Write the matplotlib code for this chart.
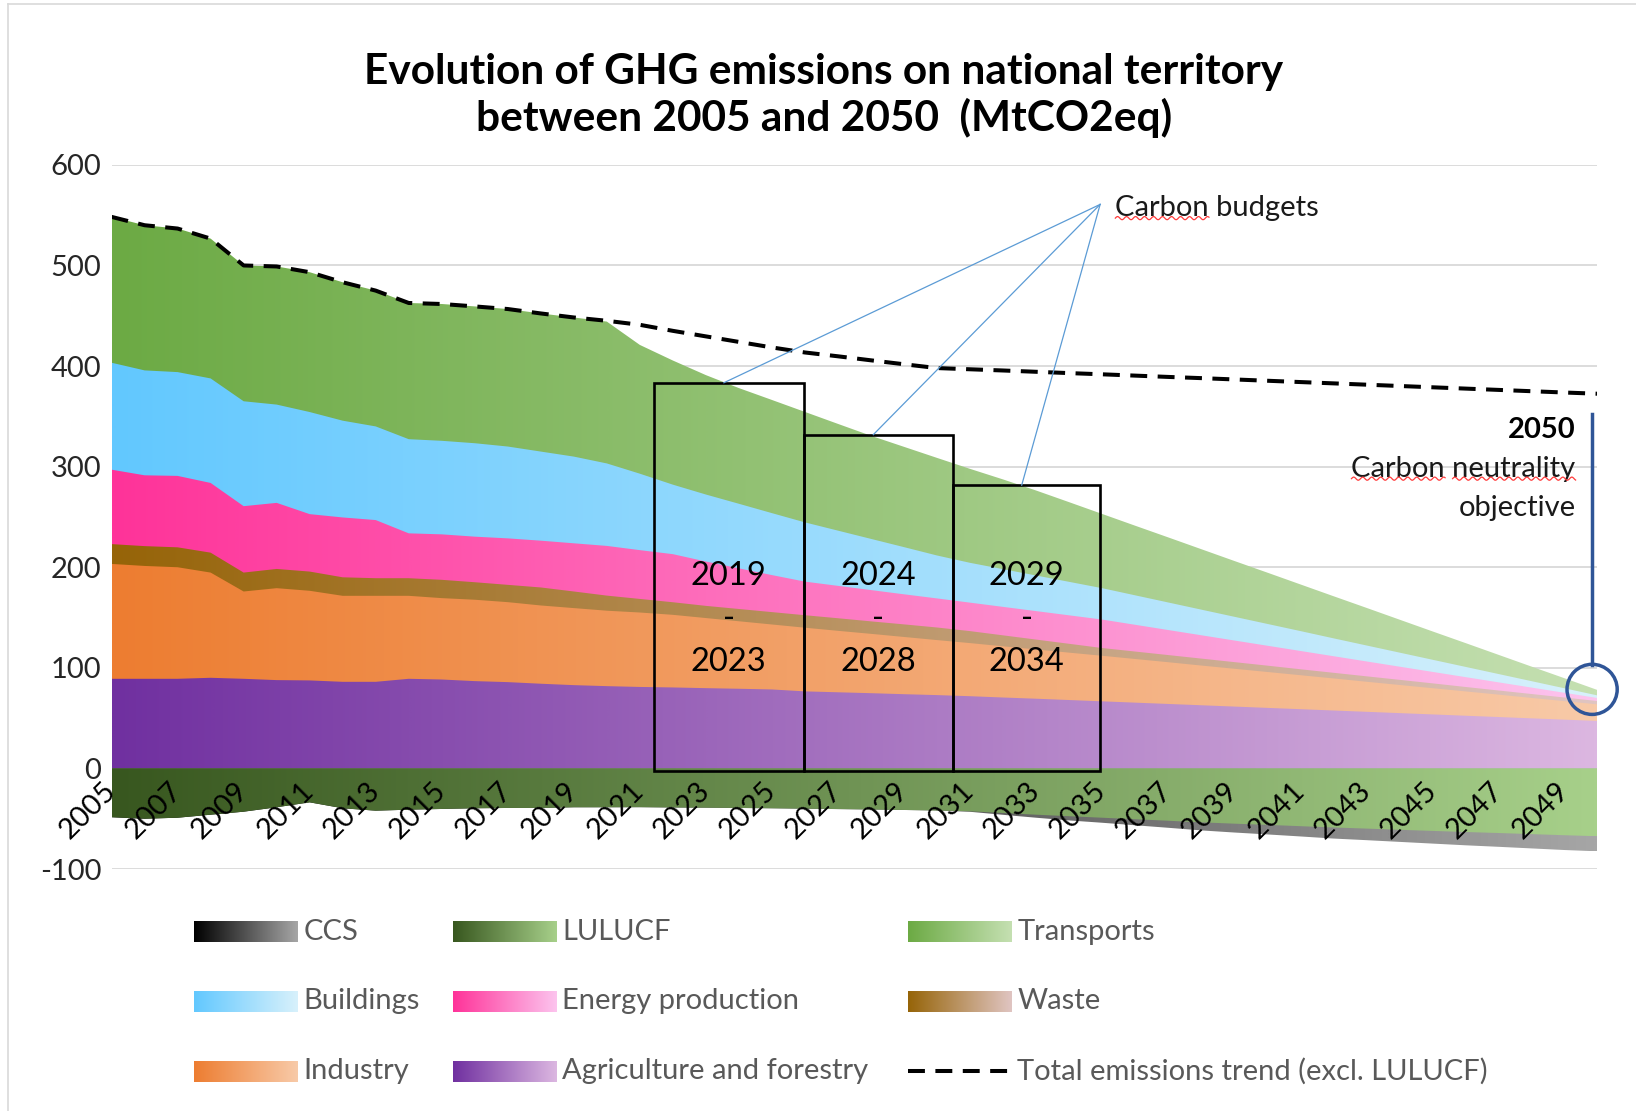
import numpy as np
import matplotlib
matplotlib.use("Agg")
import matplotlib.pyplot as plt
from matplotlib.colors import LinearSegmentedColormap
from matplotlib.patches import Rectangle, Ellipse
from matplotlib.lines import Line2D
from matplotlib.transforms import IdentityTransform

plt.rcParams['font.family'] = ['Lato', 'DejaVu Sans']

# ---------------- data ----------------
years = list(range(2005, 2051))

agriculture = [89.1, 89.1, 89.1, 90.1, 89.1, 87.8, 87.5, 86.1, 86.1, 89.1, 88.4, 86.8, 85.8, 84.2, 82.8, 81.8,
               81.0, 80.5, 79.8, 79.2, 78.5, 76.6, 75.7, 74.8, 73.8, 72.9, 71.8, 70.5, 69.3, 68.0, 66.7,
               65.4, 64.1, 62.8, 61.5, 60.2, 58.9, 57.6, 56.3, 55.0, 53.7, 52.4, 51.1, 49.8, 48.5, 47.2]
industry = [114.2, 112.2, 110.9, 104.6, 86.8, 91.4, 89.1, 85.5, 85.5, 82.5, 80.9, 80.9, 79.5, 77.8, 76.6, 75.0,
            74.0, 72.2, 69.7, 67.1, 64.6, 63.3, 61.1, 59.0, 56.9, 54.7, 52.8, 50.9, 49.0, 47.1, 45.3,
            43.4, 41.5, 39.5, 37.6, 35.7, 33.8, 31.9, 29.9, 28.0, 26.1, 24.2, 22.3, 20.3, 18.4, 16.5]
waste = [19.7, 19.7, 19.8, 19.8, 18.8, 19.1, 19.1, 18.4, 17.5, 17.5, 18.2, 17.4, 17.2, 17.9, 16.5, 15.0,
         13.5, 12.5, 12.1, 12.2, 12.3, 12.4, 12.5, 12.4, 12.5, 12.5, 11.9, 10.9, 9.8, 8.8, 7.7,
         7.4, 7.1, 6.9, 6.6, 6.3, 5.9, 5.6, 5.4, 5.1, 4.8, 4.4, 4.1, 3.9, 3.6, 3.3]
energy = [74.0, 70.4, 71.0, 69.3, 66.0, 65.7, 57.1, 59.5, 57.8, 44.6, 45.2, 45.3, 46.2, 46.5, 47.9, 49.4,
          48.5, 47.8, 44.1, 40.4, 36.8, 33.4, 32.2, 31.1, 29.9, 28.9, 28.3, 28.3, 28.3, 28.3, 28.3,
          26.6, 24.9, 23.2, 21.5, 19.8, 18.2, 16.5, 14.8, 13.1, 11.4, 9.8, 8.1, 6.4, 4.7, 3.0]
buildings = [106.3, 104.3, 103.2, 103.9, 104.3, 97.7, 101.5, 96.2, 93.1, 93.6, 93.0, 92.9, 91.3, 88.6, 86.2, 82.0,
             76.0, 69.1, 66.6, 64.2, 61.6, 58.9, 54.9, 50.9, 46.9, 42.7, 39.6, 37.5, 35.4, 33.3, 31.2,
             29.3, 27.4, 25.5, 23.6, 21.7, 19.8, 17.8, 15.9, 14.0, 12.1, 10.2, 8.3, 6.4, 4.5, 2.6]
transports = [145.0, 144.3, 142.7, 139.0, 135.0, 137.3, 139.0, 137.6, 135.0, 135.4, 136.0, 136.0, 136.7, 137.3, 138.3, 141.0,
              128.0, 123.4, 118.7, 115.0, 112.5, 109.8, 106.1, 102.5, 99.7, 97.0, 93.4, 89.2, 84.5, 79.2, 73.8,
              69.2, 64.7, 60.1, 55.5, 51.0, 46.4, 41.9, 37.4, 32.8, 28.2, 23.7, 19.1, 14.5, 10.0, 5.4]
lulucf = [-48.5, -50.0, -49.0, -46.0, -43.0, -38.6, -33.7, -39.6, -42.0, -41.0, -40.3, -39.6, -39.3, -39.3, -38.6, -38.6,
          -38.5, -38.8, -39.0, -39.3, -39.6, -40.0, -40.4, -40.8, -41.3, -41.8, -42.6, -44.3, -46.0, -47.5, -49.0,
          -50.5, -52.0, -53.6, -54.9, -56.1, -57.4, -58.7, -59.8, -61.0, -62.1, -63.2, -64.2, -65.3, -66.4, -67.4]
ccs = [0.0] * 26 + [-0.5, -1.8, -3.0, -4.2, -5.0,
                    -6.0, -7.0, -8.0, -8.8, -9.5, -10.2, -11.0, -11.5, -12.0, -12.6, -13.2, -13.7, -14.2, -14.7, -15.0]
total_trend = [548.3, 540.0, 536.7, 526.7, 500.0, 499.0, 493.3, 483.3, 475.0, 462.7, 461.7, 459.3, 456.7, 452.3, 448.3, 445.0,
               441.0, 435.0, 429.5, 424.0, 418.5, 413.5, 409.7, 405.7, 401.8, 398.0, 396.8, 395.6, 394.3, 393.0, 391.8,
               390.5, 389.2, 388.0, 386.7, 385.4, 384.1, 382.8, 381.5, 380.2, 378.9, 377.6, 376.3, 375.0, 373.7, 372.5]

budget_labels = ['2019\n-\n2023', '2024\n-\n2028', '2029\n-\n2034']
budget_values = [383.4, 331.8, 281.6]

y_ticks = [-100, 0, 100, 200, 300, 400, 500, 600]
x_tick_years = years[::2]

# ---------------- styles / positions ----------------
BUDGET_X0 = [2021.43, 2025.96, 2030.48]
BUDGET_W = [4.53, 4.52, 4.47]
FS = 21

series_colors = {
    'Agriculture and forestry': ('#7030A0', '#DCB7E1'),
    'Industry': ('#ED7D31', '#F8CAA8'),
    'Waste': ('#966408', '#E0C5C2'),
    'Energy production': ('#FF3399', '#FCC4EE'),
    'Buildings': ('#62C8FF', '#D8F1FB'),
    'Transports': ('#6CAA44', '#C5E0B2'),
    'LULUCF': ('#38571F', '#A7D08A'),
    'CCS': ('#000000', '#A6A6A6'),
}

x = np.array(years, dtype=float)

fig = plt.figure(figsize=(16.36, 11.11), dpi=100)
ax = fig.add_axes([0.0682, 0.2178, 0.9764 - 0.0682, 0.8516 - 0.2178])
ax.set_xlim(2005, 2050)
ax.set_ylim(-100, 600)

grad = np.linspace(0, 1, 512).reshape(1, -1)


def grad_fill(lower, upper, name, z):
    c0, c1 = series_colors[name]
    poly = ax.fill_between(x, lower, upper, facecolor='none', edgecolor='none', zorder=z)
    cmap = LinearSegmentedColormap.from_list(name, [c0, c1])
    lo = float(min(np.min(lower), np.min(upper)))
    hi = float(max(np.max(lower), np.max(upper)))
    im = ax.imshow(grad, extent=[x[0], x[-1], lo, hi], aspect='auto', cmap=cmap,
                   origin='lower', zorder=z, interpolation='bilinear')
    im.set_clip_path(poly.get_paths()[0], transform=ax.transData)


pos_series = [('Agriculture and forestry', agriculture), ('Industry', industry), ('Waste', waste),
              ('Energy production', energy), ('Buildings', buildings), ('Transports', transports)]
tops = np.cumsum([np.array(v) for _, v in pos_series], axis=0)
zero = np.zeros_like(x)
for i in range(len(pos_series) - 1, -1, -1):
    grad_fill(zero, tops[i], pos_series[i][0], 2 + (len(pos_series) - i) * 0.1)

neg_l = np.array(lulucf)
neg_c = neg_l + np.array(ccs)
grad_fill(zero, neg_c, 'CCS', 2.0)
grad_fill(zero, neg_l, 'LULUCF', 2.05)

# total emissions trend
ax.plot(x, total_trend, color='black', lw=2.9, linestyle=(0, (4.2, 2.6)),
        dash_capstyle='butt', zorder=5)

# grid & axes
ax.set_yticks(y_ticks)
ax.set_yticklabels([str(v) for v in y_ticks])
ax.yaxis.grid(True, color='#D9D9D9', lw=1.3)
ax.set_axisbelow(True)
for s in ax.spines.values():
    s.set_visible(False)
ax.spines['bottom'].set_position(('data', 0))
ax.tick_params(axis='y', length=0, pad=7.5, labelsize=FS, labelcolor='#262626')
ax.set_xticks(x_tick_years)
ax.set_xticklabels([str(v) for v in x_tick_years], rotation=45, ha='right', va='center',
                   rotation_mode='anchor')
ax.tick_params(axis='x', length=0, pad=13, labelsize=FS, labelcolor='black')
ax.xaxis.set_zorder(10)
ax.patch.set_visible(False)

# carbon budget boxes
for x0, w, val, lab in zip(BUDGET_X0, BUDGET_W, budget_values, budget_labels):
    ax.add_patch(Rectangle((x0, -3), w, val + 3, fill=False, ec='black', lw=1.9, zorder=6))
    ax.text(x0 + w / 2, 148.5, lab, ha='center', va='center', fontsize=23.5, linespacing=1.53,
            color='black', zorder=7)

# "Carbon budgets" annotation
cb_origin = (2034.94, 560.7)
for x0, w, val in zip(BUDGET_X0, BUDGET_W, budget_values):
    ax.plot([cb_origin[0], x0 + w / 2 - 0.15], [cb_origin[1], val], color='#5B9BD5', lw=0.9, zorder=6)
t_cb = ax.text(2035.4, 557, 'Carbon budgets', ha='left', va='center', fontsize=FS, color='#1a1a1a', zorder=7)

# 2050 objective annotation
t_2050 = ax.text(2049.34, 336, '2050', ha='right', va='center', fontsize=FS, fontweight='bold', color='black')
t_cn = ax.text(2049.34, 298, 'Carbon neutrality', ha='right', va='center', fontsize=FS, color='#1a1a1a')
t_obj = ax.text(2049.34, 258.6, 'objective', ha='right', va='center', fontsize=FS, color='#1a1a1a')
ax.plot([2049.84, 2049.84], [352, tops[-1][-1] + 25],
        color='#2F5597', lw=2.5, clip_on=False, zorder=7)
ax.add_patch(Ellipse((2049.84, tops[-1][-1] + 0.6), width=1.52, height=49.8, fill=False,
                     ec='#2F5597', lw=2.5, clip_on=False, zorder=7))

# title
fig.text(0.5035, 0.9142, 'Evolution of GHG emissions on national territory\nbetween 2005 and 2050  (MtCO2eq)',
         ha='center', va='center', fontsize=30.5, fontweight='bold', linespacing=1.2, color='black')

# legend (drawn in an overlay axes using screen-like coordinates)
lg = fig.add_axes([0, 0, 1, 1], zorder=-1)
lg.set_xlim(0, 1568)
lg.set_ylim(1065, 0)
lg.axis('off')
legend_layout = [
    ('CCS', 186, 893), ('LULUCF', 434, 893), ('Transports', 870, 893),
    ('Buildings', 186, 960), ('Energy production', 434, 960), ('Waste', 870, 960),
    ('Industry', 186, 1027), ('Agriculture and forestry', 434, 1027),
]
for name, lx, ly in legend_layout:
    c0, c1 = series_colors[name]
    cmap = LinearSegmentedColormap.from_list('l' + name, [c0, c1])
    lg.imshow(grad, extent=[lx, lx + 99, ly + 10, ly - 10], aspect='auto', cmap=cmap, interpolation='bilinear')
    lg.text(lx + 105, ly, name, ha='left', va='center', fontsize=FS, color='#595959')
lg.plot([870, 966], [1027, 1027], color='black', lw=2.9, linestyle=(0, (4.2, 2.6)), dash_capstyle='butt')
lg.text(975, 1027, 'Total emissions trend (excl. LULUCF)', ha='left', va='center', fontsize=FS, color='#595959')
lg.plot([8, 8], [4, 1065], color='#D9D9D9', lw=1.2)
lg.plot([8, 1568], [4, 4], color='#D9D9D9', lw=1.2)
lg.set_xlim(0, 1568)
lg.set_ylim(1065, 0)

# red spell-check squiggles
fig.canvas.draw()
renderer = fig.canvas.get_renderer()


def word_width(text_obj, word):
    tmp = fig.text(0, 0, word, fontproperties=text_obj.get_fontproperties())
    w = tmp.get_window_extent(renderer).width
    tmp.remove()
    return w


def squiggle(x0, x1, y):
    xs = np.linspace(x0, x1, max(int(x1 - x0), 2))
    ys = y + 1.6 * np.sin((xs - x0) * 2 * np.pi / 9.0)
    fig.add_artist(Line2D(xs, ys, transform=IdentityTransform(), color='#FF3B3B', lw=0.9))


bb = t_cb.get_window_extent(renderer)
squiggle(bb.x0, bb.x0 + word_width(t_cb, 'Carbon'), bb.y0 + 3)
bb = t_cn.get_window_extent(renderer)
squiggle(bb.x0, bb.x0 + word_width(t_cn, 'Carbon'), bb.y0 + 3)
squiggle(bb.x1 - word_width(t_cn, 'neutrality'), bb.x1, bb.y0 + 3)

fig.savefig('out.png', dpi=100)
